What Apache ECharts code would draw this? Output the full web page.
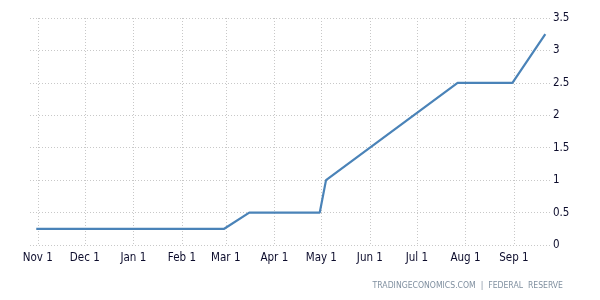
<!DOCTYPE html>
<html>
<head>
<meta charset="utf-8">
<style>
html,body{margin:0;padding:0;background:#fff;}
#c{width:600px;height:300px;}
</style>
<script src="https://cdn.jsdelivr.net/npm/echarts@6/dist/echarts.min.js"></script>
</head>
<body>
<div id="c"></div>
<script>
const dates = ['2021-10-31','2022-02-28','2022-03-16','2022-04-30','2022-05-04','2022-07-27','2022-08-31','2022-09-21'];
const rates = [0.25,0.25,0.5,0.5,1.0,2.5,2.5,3.25];
const monthLabels = ['Jan','Feb','Mar','Apr','May','Jun','Jul','Aug','Sep','Oct','Nov','Dec'];
const yTicks = [0,0.5,1,1.5,2,2.5,3,3.5];
const source = 'TRADINGECONOMICS.COM  |  FEDERAL  RESERVE';

const chart = echarts.init(document.getElementById('c'), null, {renderer:'canvas'});
const DAY = 86400000;
chart.setOption({
  animation:false,
  backgroundColor:'#fff',
  grid:{left:30,right:50,top:18,bottom:55},
  graphic:[{type:'text',right:37,top:281,style:{text:source,fill:'#8090a0',font:'8.6px "DejaVu Sans Condensed", "DejaVu Sans"'}}],
  xAxis:{
    type:'time',
    min:+new Date('2021-10-27T00:00:00'),
    max:+new Date('2022-09-24T00:00:00'),
    minInterval:28*DAY,
    maxInterval:31*DAY,
    axisLine:{show:false},
    axisTick:{show:false},
    splitLine:{show:true,showMinLine:false,showMaxLine:false,lineStyle:{color:'#c8c8c8',type:[1,2],width:1}},
    axisLabel:{
      margin:7,
      color:'#0c0c2c',
      fontFamily:'"DejaVu Sans Condensed", "DejaVu Sans"',
      fontSize:11.5,
      formatter:function(v){const d=new Date(v);return monthLabels[d.getMonth()]+' '+d.getDate();},
      showMinLabel:false,showMaxLabel:false
    }
  },
  yAxis:{
    type:'value',position:'right',min:0,max:3.5,interval:0.5,
    axisLine:{show:false},axisTick:{show:false},
    splitLine:{show:true,lineStyle:{color:'#c8c8c8',type:[1,2],width:1}},
    axisLabel:{
      margin:3,
      color:'#0c0c2c',
      fontFamily:'"DejaVu Sans Condensed", "DejaVu Sans"',
      fontSize:11.5,
      formatter:function(v){const i=yTicks.indexOf(v);return i>=0?String(yTicks[i]):'';}
    }
  },
  series:[{
    type:'line',
    data:dates.map((d,i)=>[d+'T00:00:00',rates[i]]),
    showSymbol:false,
    lineStyle:{color:'#4a83b8',width:2.2},
    itemStyle:{color:'#4a83b8'}
  }]
});
</script>
</body>
</html>
